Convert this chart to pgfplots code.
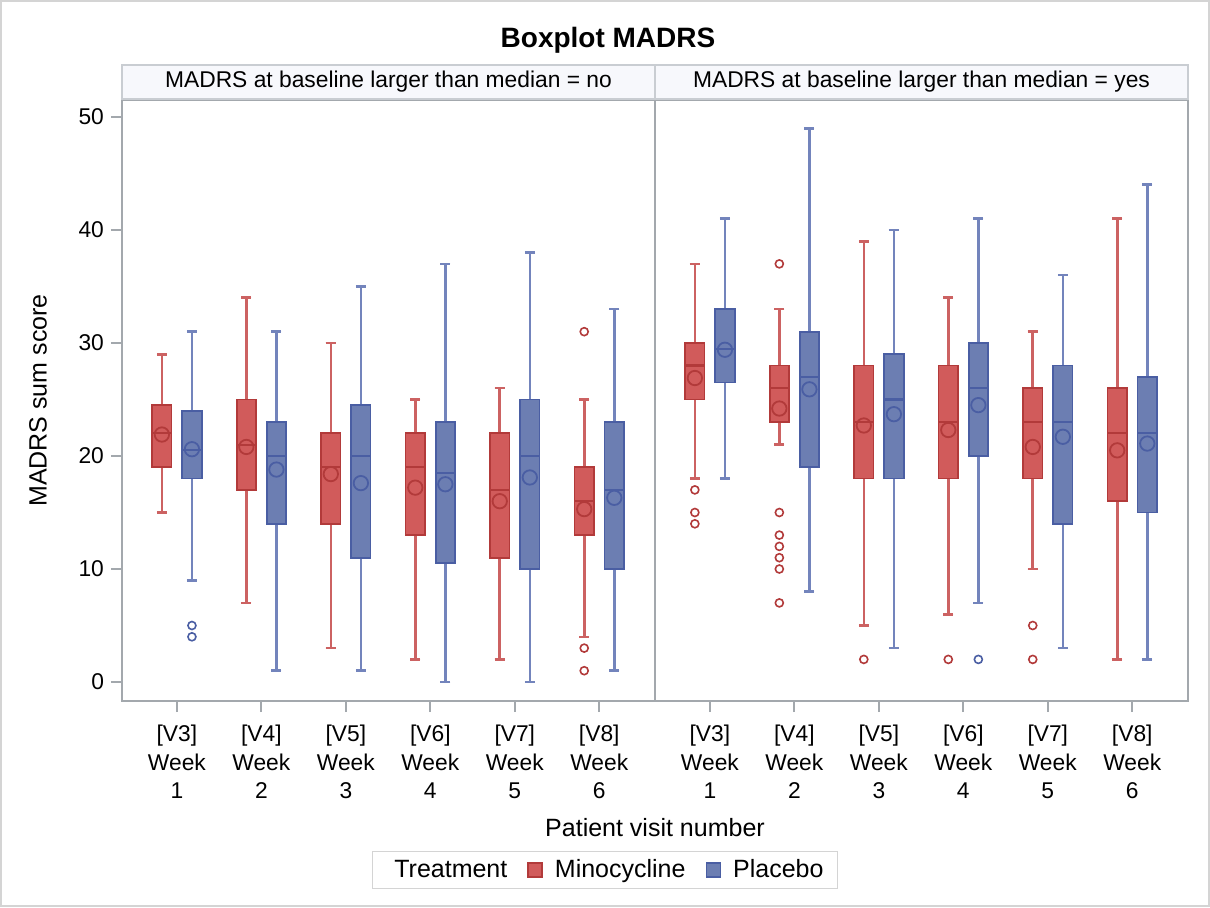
\documentclass[border=0pt]{standalone}
\usepackage{fontspec}
\setmainfont{Liberation Sans}
\usepackage{pgfplots}
\pgfplotsset{compat=1.18}
\usepgfplotslibrary{statistics}

\definecolor{minoF}{HTML}{D15B5B}
\definecolor{minoD}{HTML}{B23A3A}
\definecolor{minoW}{HTML}{CC6262}
\definecolor{placF}{HTML}{6C7EB2}
\definecolor{placD}{HTML}{4A5EA3}
\definecolor{placW}{HTML}{7384BC}
\definecolor{axgray}{HTML}{A3A8AD}
\definecolor{hdrF}{HTML}{F7F8FC}
\definecolor{hdrB}{HTML}{C9CDD2}
\definecolor{framegray}{HTML}{D4D4D4}

\newcommand{\tickfont}{\fontsize{11.4}{14.25}\selectfont}
\newcommand{\labfont}{\fontsize{12.5}{15}\selectfont}

% one box: style, position, lower whisker, Q1, median, Q3, upper whisker, mean, outliers
\newcommand{\bxp}[9]{\addplot[#1, boxplot prepared={draw position=#2,
  lower whisker=#3, lower quartile=#4, median=#5, upper quartile=#6,
  upper whisker=#7, average=#8}] coordinates {#9};}

\pgfplotsset{
  mino/.style={draw=minoD, fill=minoF, line width=0.9pt,
    mark=o, mark size=2pt, mark options={draw=minoD, fill=none, line width=0.8pt},
    boxplot/draw direction=y,
    boxplot/box extend=0.23, boxplot/whisker extend=0.12,
    boxplot/every median/.style={draw=minoD, line width=1.1pt},
    boxplot/every whisker/.style={draw=minoW, line width=1.3pt},
    boxplot/every average/.style={/tikz/mark=o, /tikz/mark size=3.6pt,
      /tikz/mark options={draw=minoD, fill=none, line width=1.1pt}}},
  plac/.style={draw=placD, fill=placF, line width=0.9pt,
    mark=o, mark size=2pt, mark options={draw=placD, fill=none, line width=0.8pt},
    boxplot/draw direction=y,
    boxplot/box extend=0.23, boxplot/whisker extend=0.12,
    boxplot/every median/.style={draw=placD, line width=1.1pt},
    boxplot/every whisker/.style={draw=placW, line width=1.3pt},
    boxplot/every average/.style={/tikz/mark=o, /tikz/mark size=3.6pt,
      /tikz/mark options={draw=placD, fill=none, line width=1.1pt}}},
  panel/.style={
    scale only axis, width=266.5pt, height=300.5pt, anchor=south west,
    xmin=-0.65, xmax=5.66, ymin=-1.68, ymax=51.5,
    xtick={0,1,2,3,4,5},
    xticklabels={{[V3]\\Week\\1},{[V4]\\Week\\2},{[V5]\\Week\\3},
                 {[V6]\\Week\\4},{[V7]\\Week\\5},{[V8]\\Week\\6}},
    xticklabel style={align=center, font=\tickfont, yshift=-3pt},
    yticklabel style={font=\tickfont},
    /pgf/number format/assume math mode=true,
    xtick pos=bottom, ytick pos=left,
    tick align=outside, major tick length=5.5pt,
    tick style={draw=axgray, line width=1pt},
    axis line style={draw=axgray, line width=1pt},
    every axis title/.style={at={(0.5,1)}, anchor=south, draw=hdrB, fill=hdrF,
      line width=1pt, minimum width=266.5pt, minimum height=17pt, inner sep=0pt,
      font=\tickfont},
  },
}

\begin{document}
\begin{tikzpicture}
\draw[framegray, line width=0.8pt] (0.4pt,0.4pt) rectangle (604.6pt,453.1pt);
\node[font=\bfseries\fontsize{14}{16}\selectfont] at (304pt,433.5pt) {Boxplot MADRS};

% left panel: baseline larger than median = no
\begin{axis}[panel, at={(61pt,103pt)},
  title={MADRS at baseline larger than median = no},
  ytick={0,10,20,30,40,50},
  ylabel={MADRS sum score}, ylabel style={font=\labfont, at={(axis description cs:-0.1576,0.5)}, anchor=center},
  xlabel={Patient visit number}, xlabel style={font=\labfont, at={(axis description cs:1.0,-0.2113)}, anchor=center},
  legend columns=3, legend cell align=left,
  legend style={at={(axis description cs:0.906,-0.2812)}, anchor=center,
    draw=framegray, line width=0.8pt, font=\labfont, inner xsep=5pt, inner ysep=2pt,
    /tikz/every odd column/.append style={column sep=4pt},
    /tikz/every even column/.append style={column sep=8pt}},
]
\addlegendimage{empty legend}
\addlegendentry{Treatment}
\addlegendimage{legend image code/.code={\draw[draw=minoD, fill=minoF, line width=0.8pt] (0pt,-3.5pt) rectangle (7pt,3.5pt);}}
\addlegendentry{Minocycline}
\addlegendimage{legend image code/.code={\draw[draw=placD, fill=placF, line width=0.8pt] (0pt,-3.5pt) rectangle (7pt,3.5pt);}}
\addlegendentry{Placebo}

\bxp{mino}{-0.178}{15}{19}{22}{24.5}{29}{21.9}{}
\bxp{plac}{0.178}{9}{18}{20.5}{24}{31}{20.6}{(0,4) (0,5)}
\bxp{mino}{0.822}{7}{17}{21}{25}{34}{20.8}{}
\bxp{plac}{1.178}{1}{14}{20}{23}{31}{18.8}{}
\bxp{mino}{1.822}{3}{14}{19}{22}{30}{18.4}{}
\bxp{plac}{2.178}{1}{11}{20}{24.5}{35}{17.6}{}
\bxp{mino}{2.822}{2}{13}{19}{22}{25}{17.2}{}
\bxp{plac}{3.178}{0}{10.5}{18.5}{23}{37}{17.5}{}
\bxp{mino}{3.822}{2}{11}{17}{22}{26}{16.0}{}
\bxp{plac}{4.178}{0}{10}{20}{25}{38}{18.1}{}
\bxp{mino}{4.822}{4}{13}{16}{19}{25}{15.3}{(0,1) (0,3) (0,31)}
\bxp{plac}{5.178}{1}{10}{17}{23}{33}{16.3}{}
\end{axis}

% right panel: baseline larger than median = yes
\begin{axis}[panel, at={(327.5pt,103pt)},
  title={MADRS at baseline larger than median = yes},
  ymajorticks=false,
]
\bxp{mino}{-0.178}{18}{25}{28}{30}{37}{26.9}{(0,14) (0,15) (0,17)}
\bxp{plac}{0.178}{18}{26.5}{29.5}{33}{41}{29.4}{}
\bxp{mino}{0.822}{21}{23}{26}{28}{33}{24.2}{(0,7) (0,10) (0,11) (0,12) (0,13) (0,15) (0,37)}
\bxp{plac}{1.178}{8}{19}{27}{31}{49}{25.9}{}
\bxp{mino}{1.822}{5}{18}{23}{28}{39}{22.7}{(0,2)}
\bxp{plac}{2.178}{3}{18}{25}{29}{40}{23.7}{}
\bxp{mino}{2.822}{6}{18}{23}{28}{34}{22.3}{(0,2)}
\bxp{plac}{3.178}{7}{20}{26}{30}{41}{24.5}{(0,2)}
\bxp{mino}{3.822}{10}{18}{23}{26}{31}{20.8}{(0,2) (0,5)}
\bxp{plac}{4.178}{3}{14}{23}{28}{36}{21.7}{}
\bxp{mino}{4.822}{2}{16}{22}{26}{41}{20.5}{}
\bxp{plac}{5.178}{2}{15}{22}{27}{44}{21.1}{}
\end{axis}
\end{tikzpicture}
\end{document}
